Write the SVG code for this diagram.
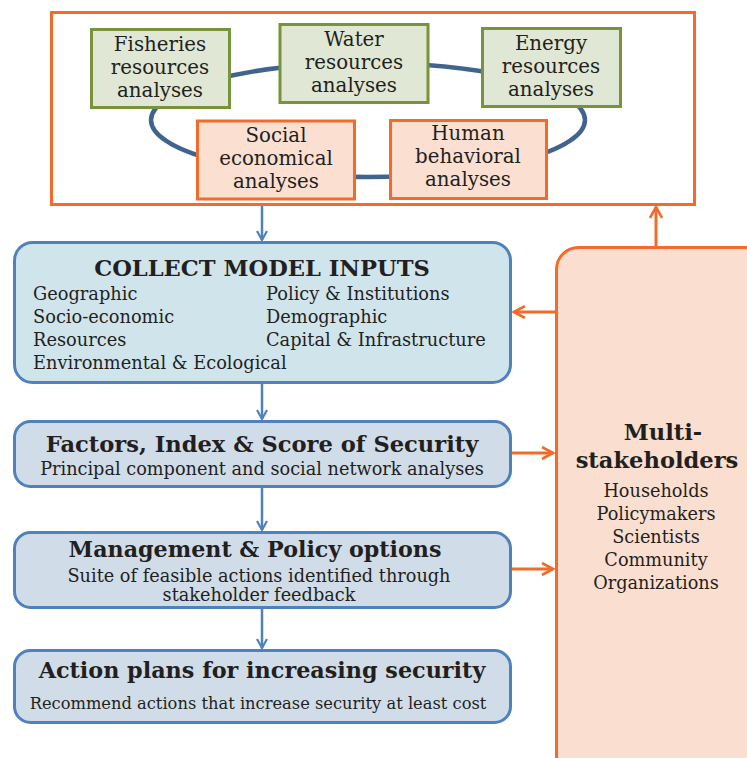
<svg xmlns="http://www.w3.org/2000/svg" width="747" height="758" viewBox="0 0 747 758">
<defs>
<marker id="ab" viewBox="0 0 12 12" refX="10" refY="6" markerWidth="12" markerHeight="12" markerUnits="userSpaceOnUse" orient="auto"><path d="M1,1 L10,6 L1,11" fill="none" stroke="#4f81bd" stroke-width="2.2"/></marker>
<marker id="ao" viewBox="0 0 14 14" refX="12" refY="7" markerWidth="14" markerHeight="14" markerUnits="userSpaceOnUse" orient="auto"><path d="M1,1 L12,7 L1,13" fill="none" stroke="#f26b2a" stroke-width="2.6"/></marker>
</defs>
<style>
text{font-family:"DejaVu Serif","Liberation Serif",serif;fill:#231f20}
.t{font-size:19.8px;text-anchor:middle}
.g{fill:#e0e7d5;stroke:#77933c;stroke-width:3}
.o{fill:#fbe0d2;stroke:#f26b2a;stroke-width:3}
.b{stroke:#4f81bd;stroke-width:3}
.h{font-weight:bold;font-size:22.6px;text-anchor:middle}
.s{font-size:17.8px}
.sc{font-size:17.7px;text-anchor:middle}
.cb{stroke:#4f81bd;stroke-width:2.5;fill:none;marker-end:url(#ab)}
.co{stroke:#f26b2a;stroke-width:3;fill:none;marker-end:url(#ao)}
</style>
<rect x="0" y="0" width="747" height="758" fill="#fff"/>
<g id="analyses-frame">
<rect x="51.5" y="12.5" width="643" height="192" fill="#fff" stroke="#f26b2a" stroke-width="3"/>
<ellipse cx="368" cy="120" rx="217" ry="57" fill="none" stroke="#41648f" stroke-width="4.5"/>
</g>
<g id="fisheries"><rect class="g" x="91.5" y="29.5" width="138" height="78"/><text class="t" x="160" y="51">Fisheries</text><text class="t" x="160" y="74">resources</text><text class="t" x="160" y="97">analyses</text></g>
<g id="water"><rect class="g" x="280" y="24.5" width="148" height="78"/><text class="t" x="354" y="46">Water</text><text class="t" x="354" y="69">resources</text><text class="t" x="354" y="92">analyses</text></g>
<g id="energy"><rect class="g" x="482.5" y="28.5" width="138" height="78"/><text class="t" x="551" y="50">Energy</text><text class="t" x="551" y="73">resources</text><text class="t" x="551" y="96">analyses</text></g>
<g id="social"><rect class="o" x="197.5" y="121" width="157" height="78"/><text class="t" x="276" y="142">Social</text><text class="t" x="276" y="165">economical</text><text class="t" x="276" y="188">analyses</text></g>
<g id="human"><rect class="o" x="390.5" y="120.5" width="156" height="78"/><text class="t" x="468" y="140">Human</text><text class="t" x="468" y="163">behavioral</text><text class="t" x="468" y="186">analyses</text></g>
<g id="connectors">
<path class="cb" d="M262,206 V240"/>
<path class="cb" d="M262,384 V419"/>
<path class="cb" d="M262,488 V530"/>
<path class="cb" d="M262,609 V648"/>
<path class="co" d="M656,247 V207"/>
<path class="co" d="M556,312 H514"/>
<path class="co" d="M512,453 H553"/>
<path class="co" d="M512,569 H553"/>
</g>
<g id="collect"><rect class="b" x="14.5" y="242.5" width="496" height="140" rx="18" fill="#d0e4ec"/>
<text class="h" x="262" y="276">COLLECT MODEL INPUTS</text>
<text class="s" x="33" y="300">Geographic</text><text class="s" x="33" y="323">Socio-economic</text><text class="s" x="33" y="346">Resources</text><text class="s" x="33" y="369">Environmental &amp; Ecological</text>
<text class="s" x="266" y="300">Policy &amp; Institutions</text><text class="s" x="266" y="323">Demographic</text><text class="s" x="266" y="346">Capital &amp; Infrastructure</text>
</g>
<g id="factors"><rect class="b" x="14.5" y="421.5" width="496" height="65" rx="16" fill="#d0dde9"/>
<text class="h" x="262" y="452">Factors, Index &amp; Score of Security</text>
<text class="sc" x="262" y="475">Principal component and social network analyses</text></g>
<g id="management"><rect class="b" x="14.5" y="532.5" width="496" height="75" rx="16" fill="#d0dde9"/>
<text class="h" x="255" y="557" style="font-size:22.2px">Management &amp; Policy options</text>
<text class="sc" x="259" y="582">Suite of feasible actions identified through</text>
<text class="sc" x="259" y="601">stakeholder feedback</text></g>
<g id="action"><rect class="b" x="14.5" y="650.5" width="496" height="72" rx="16" fill="#d0dde9"/>
<text class="h" x="262" y="678" style="font-size:22.3px">Action plans for increasing security</text>
<text class="sc" x="258" y="709" style="font-size:16.3px">Recommend actions that increase security at least cost</text></g>
<g id="stakeholders"><rect x="556.5" y="247.5" width="210" height="530" rx="22" fill="#fadfd0" stroke="#f26b2a" stroke-width="3"/>
<text class="h" x="663" y="440">Multi-</text><text class="h" x="657" y="468">stakeholders</text>
<text class="sc" x="656" y="497">Households</text><text class="sc" x="656" y="520">Policymakers</text><text class="sc" x="656" y="543">Scientists</text><text class="sc" x="656" y="566">Community</text><text class="sc" x="656" y="589">Organizations</text></g>
</svg>
